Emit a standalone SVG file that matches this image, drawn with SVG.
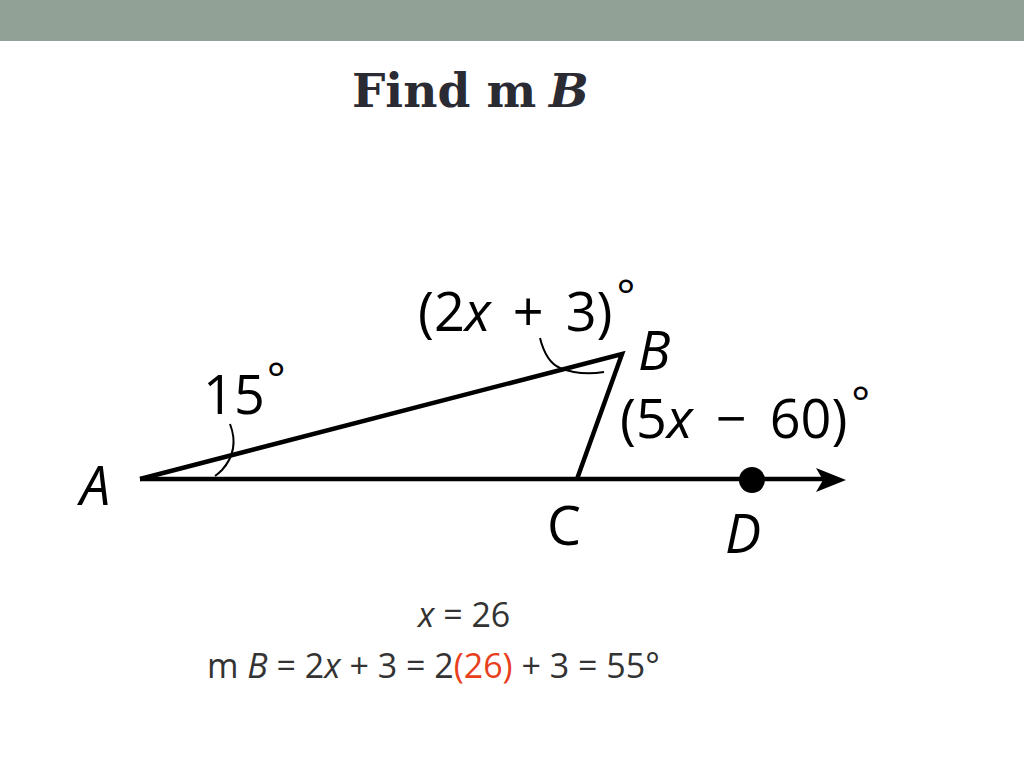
<svg xmlns="http://www.w3.org/2000/svg" width="1024" height="768" viewBox="0 0 1024 768">
<defs>
<style>
.lbl{font-family:"Open Sans","Noto Sans",sans-serif;font-size:54px;fill:#000}
.it{font-style:italic}
.eq{font-family:"Open Sans","Noto Sans",sans-serif;font-size:34px;fill:#333}
.ln{stroke:#000;stroke-width:4.5;fill:none;stroke-linejoin:miter}
.arc{stroke:#000;stroke-width:2;fill:none}
.ttl{font-family:"DejaVu Serif","Liberation Serif",serif;font-weight:bold;font-size:47px;fill:#2b2b33}
.deg{font-size:44px}
</style>
</defs>
<rect x="0" y="0" width="1024" height="768" fill="#fff"/>
<rect x="0" y="0" width="1024" height="41" fill="#92a196"/>
<text class="ttl" x="352" y="107">Find m</text>
<text class="ttl" x="549" y="107" font-style="italic">B</text>
<g id="connectors">
<path class="ln" d="M 140 479 L 622 354 L 577 479"/>
<line class="ln" x1="140" y1="479" x2="830" y2="479"/>
<path d="M 846 480 L 816 468 L 823 480 L 816 492 Z" fill="#000"/>
<path class="arc" d="M 230 424 Q 240 450 222 470 Q 218 474 215 476"/>
<path class="arc" d="M 540 338 Q 546 362 560 368 Q 580 376 604 372"/>
</g>
<g id="node-A"><text class="lbl it" x="80" y="505">A</text></g>
<g id="node-B"><text class="lbl it" x="638" y="370">B</text></g>
<g id="node-C"><text class="lbl" x="547" y="545">C</text></g>
<g id="node-D"><circle cx="752" cy="480" r="13" fill="#000"/><text class="lbl it" x="725" y="553">D</text></g>
<g id="labels">
<text class="lbl" x="418" y="331" word-spacing="8">(2<tspan class="it">x</tspan> + 3)<tspan class="deg" dx="4" dy="-20">°</tspan></text>
<text class="lbl" x="203" y="414">15<tspan class="deg" dx="2" dy="-20">°</tspan></text>
<text class="lbl" x="620" y="438" word-spacing="9">(5<tspan class="it">x</tspan> − 60)<tspan class="deg" dx="4" dy="-20">°</tspan></text>
</g>
<g id="equations">
<text class="eq" x="418" y="627"><tspan class="it">x</tspan> = 26</text>
<text class="eq" x="207" y="678">m <tspan class="it">B</tspan> = 2<tspan class="it">x</tspan> + 3 = 2<tspan fill="#e8401c">(26)</tspan> + 3 = 55°</text>
</g>
</svg>
